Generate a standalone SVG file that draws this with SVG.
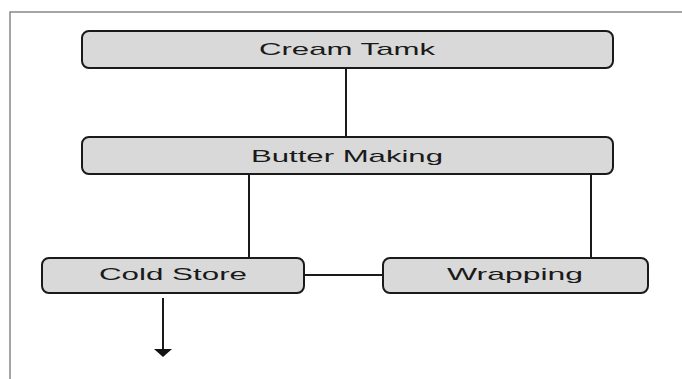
<svg xmlns="http://www.w3.org/2000/svg" width="682" height="379" viewBox="0 0 682 379">
<style>
.box{fill:#d9d9d9;stroke:#1a1a1a;stroke-width:2}
.lbl{font-family:"Liberation Sans",Arial,sans-serif;font-size:17px;fill:#1a1a1a;text-anchor:middle}
.ln{stroke:#1a1a1a;stroke-width:2;fill:none}
</style>
<rect width="682" height="379" fill="#fff"/>
<path d="M10,379 V12 H682" fill="none" stroke="#888" stroke-width="1.5"/>
<g id="connectors">
<line class="ln" x1="346" y1="67" x2="346" y2="137"/>
<line class="ln" x1="249" y1="174" x2="249" y2="258"/>
<line class="ln" x1="591" y1="174" x2="591" y2="258"/>
<line class="ln" x1="304" y1="275" x2="383" y2="275"/>
<line class="ln" x1="163" y1="298" x2="163" y2="350"/>
<path d="M154,349 L172,349 L163,357 Z" fill="#111"/>
</g>
<g id="cream-tank">
<rect class="box" x="82" y="31" width="531" height="37" rx="7"/>
<text class="lbl" x="347" y="55" textLength="176" lengthAdjust="spacingAndGlyphs">Cream Tamk</text>
</g>
<g id="butter-making">
<rect class="box" x="82" y="137" width="531" height="37" rx="7"/>
<text class="lbl" x="347" y="162" textLength="192" lengthAdjust="spacingAndGlyphs">Butter Making</text>
</g>
<g id="cold-store">
<rect class="box" x="42" y="258" width="262" height="35" rx="7"/>
<text class="lbl" x="173" y="280" textLength="148" lengthAdjust="spacingAndGlyphs">Cold Store</text>
</g>
<g id="wrapping">
<rect class="box" x="383" y="258" width="265" height="35" rx="7"/>
<text class="lbl" x="515" y="280" textLength="136" lengthAdjust="spacingAndGlyphs">Wrapping</text>
</g>
</svg>
